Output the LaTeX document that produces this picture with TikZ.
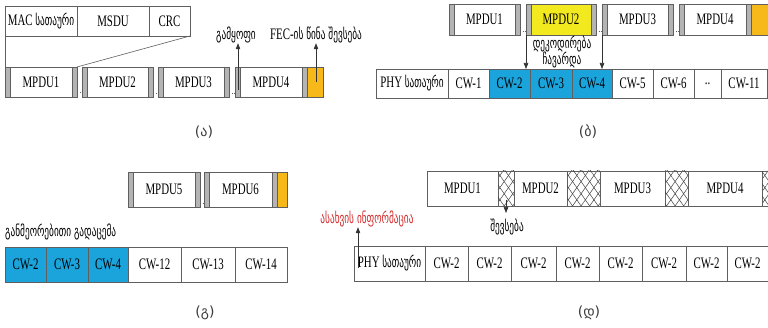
\documentclass[tikz,border=0pt]{standalone}
\usepackage{fontspec}
\setmainfont{Liberation Serif}[FakeStretch=0.68]
\newfontfamily\geo{DejaVu Sans}[FakeStretch=0.62]
\newfontfamily\labf{DejaVu Sans}
\usetikzlibrary{arrows.meta,patterns.meta}
\definecolor{linecol}{RGB}{95,95,95}
\definecolor{bargray}{RGB}{180,180,180}
\definecolor{cwblue}{RGB}{27,163,220}
\definecolor{mpyellow}{RGB}{243,233,31}
\definecolor{fecorange}{RGB}{247,184,26}
\definecolor{infored}{RGB}{212,42,42}
\definecolor{labcol}{RGB}{60,60,60}
\newcommand\mainsz{\fontsize{16}{18}\selectfont}
\newcommand\geosz{\geo\fontsize{15}{17}\selectfont}
\newcommand\gtxt[1]{{\geosz #1}}
\newcommand\labsz{\labf\fontsize{14}{16}\selectfont}
\tikzset{
 lc/.style={draw=linecol, line width=0.6pt},
 mbox/.style={lc, anchor=north west, inner sep=0pt, outer sep=0pt, font=\mainsz},
 gbar/.style={lc, fill=bargray, anchor=north west, inner sep=0pt, outer sep=0pt, minimum width=5pt},
 hatchbox/.style={lc, anchor=north west, inner sep=0pt, outer sep=0pt,
   pattern={Lines[angle=55,distance=7pt,line width=0.5pt]}, pattern color=black!75,
   postaction={pattern={Lines[angle=-55,distance=7pt,line width=0.5pt]}, pattern color=black!75}},
 arr/.style={draw=black!80, line width=0.6pt, -{Triangle[length=6pt,width=4.5pt]}},
 geotext/.style={font=\geosz, inner sep=0pt},
 sublabel/.style={font=\labsz, text=labcol, inner sep=0pt},
 link/.style={draw=linecol, dotted, line width=0.7pt},
 blue/.style={fill=cwblue},
 rowa/.style={minimum height=30pt},
 rowb/.style={minimum height=29pt},
 rowc/.style={minimum height=35pt},
 rowd/.style={minimum height=35pt}
}
% name, x, y, w, h, text, extra style
\newcommand\mpdu[7]{%
 \node[mbox, minimum width=#4pt, minimum height=#5pt, #7] (#1) at (#2,#3) {#6};
 \node[gbar, minimum height=#5pt] (#1l) at (#2,#3) {};
 \node[gbar, minimum height=#5pt] (#1r) at ({#2+#4-5},#3) {};
}
\begin{document}
\begin{tikzpicture}[x=1pt,y=-1pt]
\useasboundingbox (0,0) rectangle (768,328);
\clip (0,0) rectangle (768,328);
\fill[white] (0,0) rectangle (768,328);

% ---------------- (a) ----------------
\node[mbox, rowa, minimum width=72pt] (mac) at (5,6) {MAC \gtxt{სათაური}};
\node[mbox, rowa, minimum width=72pt] (msdu) at (77,6) {MSDU};
\node[mbox, rowa, minimum width=41pt] (crc) at (149,6) {CRC};

\mpdu{ma1}{5}{67}{72}{30}{MPDU1}{}
\mpdu{ma2}{82}{67}{71}{30}{MPDU2}{}
\mpdu{ma3}{158}{67}{71}{30}{MPDU3}{}
\mpdu{ma4}{235}{67}{72}{30}{MPDU4}{}
\node[mbox, rowa, minimum width=16pt, fill=fecorange] (fa) at (307,67) {};

\draw[lc] (mac.south west) -- (ma1.north west);
\draw[lc] (crc.south east) -- (ma1.north east);
\draw[link] ([yshift=5pt]ma1.south east) -- ([yshift=5pt]ma2.south west);
\draw[link] ([yshift=4pt]ma2.south east) -- ([yshift=4pt]ma3.south west);
\draw[link] ([yshift=4pt]ma3.south east) -- ([yshift=4pt]ma4.south west);

\node[geotext] (septxt) at (236,35) {გამყოფი};
\coordinate (sepbot) at (238,90);
\draw[arr] (sepbot) -- (sepbot |- septxt.south);
\node[font=\mainsz, inner sep=0pt] (fectxt) at (316,35) {FEC-\gtxt{ის წინა შევსება}};
\coordinate (fecbot) at (316,82);
\draw[arr] (fecbot) -- (fecbot |- fectxt.south);

\node[sublabel] (laba) at (204,132) {(ა)};

% ---------------- (b) ----------------
\mpdu{mb1}{449}{4}{71}{31}{MPDU1}{}
\mpdu{mb2}{526}{4}{70}{31}{MPDU2}{fill=mpyellow}
\mpdu{mb3}{602}{4}{71}{31}{MPDU3}{}
\mpdu{mb4}{679}{4}{72}{31}{MPDU4}{}
\node[mbox, minimum height=31pt, minimum width=18pt, fill=fecorange] (fb) at (751,4) {};
\draw[link] ([yshift=4pt]mb1.south east) -- ([yshift=4pt]mb2.south west);
\draw[link] ([yshift=4pt]mb2.south east) -- ([yshift=4pt]mb3.south west);
\draw[link] ([yshift=4pt]mb3.south east) -- ([yshift=4pt]mb4.south west);

\node[mbox, rowb, minimum width=72pt] (phyb) at (376,69) {PHY \gtxt{სათაური}};
\node[mbox, rowb, minimum width=41pt] (cb1) at (448,69) {CW-1};
\node[mbox, rowb, minimum width=41pt, blue] (cb2) at (489,69) {CW-2};
\node[mbox, rowb, minimum width=42pt, blue] (cb3) at (530,69) {CW-3};
\node[mbox, rowb, minimum width=40pt, blue] (cb4) at (572,69) {CW-4};
\node[mbox, rowb, minimum width=41pt] (cb5) at (612,69) {CW-5};
\node[mbox, rowb, minimum width=41pt] (cb6) at (653,69) {CW-6};
\node[mbox, rowb, minimum width=27pt] (cbd) at (694,69) {..};
\node[mbox, rowb, minimum width=46pt] (cb11) at (721,69) {CW-11};

\draw[arr] (mb2.south west) -- (mb2.south west |- cb2.north);
\draw[arr] (mb3.south west) -- (mb3.south west |- cb4.north);
\node[geotext, align=center] (dectxt) at (562,52) {დეკოდირება\\[-1pt]ჩავარდა};

\node[sublabel] (labb) at (588,132) {(ბ)};

% ---------------- (c) ----------------
\mpdu{mc5}{128}{172}{72}{35}{MPDU5}{}
\mpdu{mc6}{204}{172}{73}{35}{MPDU6}{}
\node[mbox, minimum height=35pt, minimum width=10pt, fill=fecorange] (fc) at (277,172) {};
\draw[link] ([yshift=4pt]mc5.south east) -- ([yshift=4pt]mc6.south west);

\node[geotext, anchor=west] (rettxt) at (5,232) {განმეორებითი გადაცემა};

\node[mbox, rowc, minimum width=41pt, blue] (cc2) at (5,247) {CW-2};
\node[mbox, rowc, minimum width=42pt, blue] (cc3) at (46,247) {CW-3};
\node[mbox, rowc, minimum width=40pt, blue] (cc4) at (88,247) {CW-4};
\node[mbox, rowc, minimum width=53pt] (cc12) at (128,247) {CW-12};
\node[mbox, rowc, minimum width=54pt] (cc13) at (181,247) {CW-13};
\node[mbox, rowc, minimum width=52pt] (cc14) at (235,247) {CW-14};

\node[sublabel] (labc) at (205,313) {(გ)};

% ---------------- (d) ----------------
\node[mbox, rowd, minimum width=71pt] (md1) at (427,171) {MPDU1};
\node[hatchbox, rowd, minimum width=16pt] (hd1) at (498,171) {};
\node[mbox, rowd, minimum width=53pt] (md2) at (514,171) {MPDU2};
\node[hatchbox, rowd, minimum width=33pt] (hd2) at (567,171) {};
\node[mbox, rowd, minimum width=65pt] (md3) at (600,171) {MPDU3};
\node[hatchbox, rowd, minimum width=23pt] (hd3) at (665,171) {};
\node[mbox, rowd, minimum width=74pt] (md4) at (688,171) {MPDU4};
\node[hatchbox, rowd, minimum width=12pt] (hd4) at (762,171) {};

\node[geotext] (padtxt) at (507,227) {შევსება};
\draw[arr] ([yshift=6pt]hd1.south) -- ([yshift=-7pt]hd1.south);

\node[geotext, text=infored] (maptxt) at (367,219) {ასახვის ინფორმაცია};

\node[mbox, rowd, minimum width=71pt] (phyd) at (354,246) {PHY \gtxt{სათაური}};
\node[mbox, rowd, minimum width=43pt] (cd1) at (425,246) {CW-2};
\node[mbox, rowd, minimum width=43pt] (cd2) at (468,246) {CW-2};
\node[mbox, rowd, minimum width=45pt] (cd3) at (511,246) {CW-2};
\node[mbox, rowd, minimum width=43pt] (cd4) at (556,246) {CW-2};
\node[mbox, rowd, minimum width=43pt] (cd5) at (599,246) {CW-2};
\node[mbox, rowd, minimum width=44pt] (cd6) at (642,246) {CW-2};
\node[mbox, rowd, minimum width=41pt] (cd7) at (686,246) {CW-2};
\node[mbox, rowd, minimum width=41pt] (cd8) at (727,246) {CW-2};

\coordinate (mapbot) at (358,268);
\draw[arr] (mapbot) -- (mapbot |- maptxt.south);

\node[sublabel] (labd) at (589,313) {(დ)};
\end{tikzpicture}
\end{document}
